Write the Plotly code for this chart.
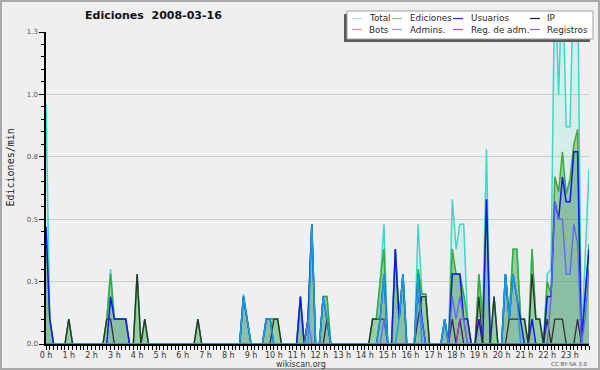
import plotly.graph_objects as go

# ---------------- data (10-minute steps, one row per hour) ----------------
times = [f"{h:02d}:{m:02d}" for h in range(24) for m in range(0, 60, 10)]

total = [
    0.96, 0.1, 0, 0, 0, 0,
    0.1, 0, 0, 0, 0, 0,
    0, 0, 0, 0, 0.1, 0.3,
    0.1, 0.1, 0.1, 0.1, 0, 0,
    0.28, 0, 0.1, 0, 0, 0,
    0, 0, 0, 0, 0, 0,
    0, 0, 0, 0, 0.1, 0,
    0, 0, 0, 0, 0, 0,
    0, 0, 0, 0, 0.2, 0.1,
    0, 0, 0, 0, 0.1, 0.1,
    0.1, 0.1, 0, 0, 0, 0,
    0, 0.19, 0, 0.1, 0.48, 0,
    0, 0.19, 0.19, 0, 0, 0,
    0, 0, 0, 0, 0, 0,
    0, 0, 0.1, 0.1, 0.25, 0.48,
    0, 0, 0.38, 0.1, 0.28, 0,
    0, 0, 0.48, 0.2, 0.2, 0,
    0, 0, 0, 0.1, 0, 0.58,
    0.38, 0.48, 0.48, 0.1, 0, 0,
    0.28, 0.1, 0.78, 0, 0.19, 0,
    0, 0.28, 0.1, 0.38, 0.38, 0.1,
    0.1, 0, 0.38, 0.1, 0.1, 0,
    0.28, 0.3, 1.5, 1.0, 1.5, 0.87,
    0.87, 1.5, 1.5, 0, 0.35, 0.7,
]
ediciones = [
    0.47, 0.1, 0, 0, 0, 0,
    0.1, 0, 0, 0, 0, 0,
    0, 0, 0, 0, 0.1, 0.28,
    0.1, 0.1, 0.1, 0.1, 0, 0,
    0.28, 0, 0.1, 0, 0, 0,
    0, 0, 0, 0, 0, 0,
    0, 0, 0, 0, 0.1, 0,
    0, 0, 0, 0, 0, 0,
    0, 0, 0, 0, 0.19, 0.1,
    0, 0, 0, 0, 0.1, 0.1,
    0.1, 0.1, 0, 0, 0, 0,
    0, 0.19, 0, 0.1, 0.48, 0,
    0, 0.19, 0.19, 0, 0, 0,
    0, 0, 0, 0, 0, 0,
    0, 0, 0.1, 0.1, 0.25, 0.38,
    0, 0, 0.38, 0.1, 0.28, 0,
    0, 0, 0.3, 0.2, 0.2, 0,
    0, 0, 0, 0.1, 0, 0.38,
    0.28, 0.28, 0.2, 0.1, 0, 0,
    0.28, 0.1, 0.58, 0, 0.19, 0,
    0, 0.28, 0.1, 0.38, 0.38, 0.1,
    0.1, 0, 0.38, 0.1, 0.1, 0,
    0.25, 0.2, 0.67, 0.61, 0.77, 0.6,
    0.66, 0.8, 0.86, 0, 0.2, 0.4,
]
usuarios = [
    0.47, 0.1, 0, 0, 0, 0,
    0, 0, 0, 0, 0, 0,
    0, 0, 0, 0, 0, 0.19,
    0.1, 0.1, 0.1, 0.1, 0, 0,
    0, 0, 0, 0, 0, 0,
    0, 0, 0, 0, 0, 0,
    0, 0, 0, 0, 0, 0,
    0, 0, 0, 0, 0, 0,
    0, 0, 0, 0, 0.19, 0.1,
    0, 0, 0, 0, 0.1, 0.1,
    0, 0, 0, 0, 0, 0,
    0, 0.19, 0, 0.1, 0.48, 0,
    0, 0.19, 0.1, 0, 0, 0,
    0, 0, 0, 0, 0, 0,
    0, 0, 0, 0, 0.1, 0.28,
    0, 0, 0.38, 0.1, 0.28, 0,
    0, 0, 0.28, 0.1, 0, 0,
    0, 0, 0, 0.1, 0, 0.28,
    0.28, 0.28, 0.1, 0.1, 0, 0,
    0.1, 0, 0.58, 0, 0, 0,
    0, 0.28, 0.1, 0.28, 0.19, 0.1,
    0, 0, 0.1, 0, 0, 0,
    0.19, 0.19, 0.57, 0.5, 0.67, 0.57,
    0.57, 0.77, 0.77, 0, 0.2, 0.38,
]
ip = [
    0, 0, 0, 0, 0, 0,
    0.1, 0, 0, 0, 0, 0,
    0, 0, 0, 0, 0.1, 0.1,
    0, 0, 0, 0, 0, 0,
    0.28, 0, 0.1, 0, 0, 0,
    0, 0, 0, 0, 0, 0,
    0, 0, 0, 0, 0.1, 0,
    0, 0, 0, 0, 0, 0,
    0, 0, 0, 0, 0, 0,
    0, 0, 0, 0, 0, 0,
    0.1, 0.1, 0, 0, 0, 0,
    0, 0, 0, 0, 0, 0,
    0, 0, 0.1, 0, 0, 0,
    0, 0, 0, 0, 0, 0,
    0, 0, 0.1, 0.1, 0.1, 0.1,
    0, 0, 0, 0, 0, 0,
    0, 0, 0.1, 0.19, 0.19, 0,
    0, 0, 0, 0, 0, 0.1,
    0, 0.1, 0, 0, 0, 0,
    0.19, 0, 0, 0, 0.19, 0,
    0, 0, 0.1, 0.1, 0.1, 0.1,
    0.1, 0, 0.28, 0.1, 0.1, 0,
    0.1, 0, 0.1, 0.1, 0.1, 0,
    0, 0, 0.1, 0, 0, 0,
]
bots = [0] * 144
admins = [
    0, 0, 0, 0, 0, 0,
    0, 0, 0, 0, 0, 0,
    0, 0, 0, 0, 0, 0,
    0, 0, 0, 0, 0, 0,
    0, 0, 0, 0, 0, 0,
    0, 0, 0, 0, 0, 0,
    0, 0, 0, 0, 0, 0,
    0, 0, 0, 0, 0, 0,
    0, 0, 0, 0, 0.19, 0.1,
    0, 0, 0, 0, 0.1, 0.1,
    0, 0, 0, 0, 0, 0,
    0, 0, 0, 0, 0.48, 0,
    0, 0.19, 0.1, 0, 0, 0,
    0, 0, 0, 0, 0, 0,
    0, 0, 0, 0, 0.1, 0.28,
    0, 0, 0, 0.1, 0.28, 0,
    0, 0, 0.28, 0, 0, 0,
    0, 0, 0, 0.1, 0, 0,
    0, 0, 0, 0, 0, 0,
    0, 0, 0, 0, 0, 0,
    0, 0.28, 0.1, 0.28, 0.19, 0,
    0, 0, 0, 0, 0, 0,
    0, 0, 0, 0, 0, 0,
    0, 0, 0, 0, 0, 0,
]
reg_adm = [0] * 108 + [0, 0.1, 0.1, 0, 0, 0] + [0] * 30
registros = [
    0, 0, 0, 0, 0, 0,
    0, 0, 0, 0, 0, 0,
    0, 0, 0, 0, 0, 0,
    0, 0, 0, 0, 0, 0,
    0, 0, 0, 0, 0, 0,
    0, 0, 0, 0, 0, 0,
    0, 0, 0, 0, 0, 0,
    0, 0, 0, 0, 0, 0,
    0, 0, 0, 0, 0, 0,
    0, 0, 0, 0, 0, 0,
    0, 0, 0, 0, 0, 0,
    0, 0, 0, 0.1, 0, 0,
    0, 0, 0, 0, 0, 0,
    0, 0, 0, 0, 0, 0,
    0, 0, 0, 0, 0, 0.1,
    0, 0, 0, 0, 0, 0,
    0, 0, 0.19, 0.1, 0, 0,
    0, 0, 0, 0, 0, 0.19,
    0.1, 0.19, 0.1, 0, 0, 0,
    0, 0, 0, 0, 0, 0,
    0, 0, 0, 0, 0, 0,
    0, 0, 0, 0, 0, 0,
    0, 0.19, 0.57, 0.5, 0.5, 0.28,
    0.28, 0.48, 0.4, 0, 0.1, 0.3,
]

y_tickvals = [0, 0.25, 0.5, 0.75, 1.0, 1.25]
y_ticktext = ["0.0", "0.3", "0.5", "0.8", "1.0", "1.3"]
hour_ticks = list(range(24))
hour_labels = [f"{h} h" for h in hour_ticks]

legend_names = ["Total", "Ediciones", "Usuarios", "IP",
                "Bots", "Admins.", "Reg. de adm.", "Registros"]
legend_colors = ["#a8e6de", "#7cc87c", "#2a2ae6", "#202020",
                 "#f0a040", "#40c4e0", "#c040e0", "#7070f0"]

# ---------------- figure ----------------
x = [int(t[:2]) + int(t[3:]) / 60 for t in times]

W, H = 600, 370
L, R, T, B = 46, 11, 32, 26
PW, PH = W - L - R, H - T - B


def px(xpix):
    return (xpix - L) / PW


def py(ypix):
    return (H - B - ypix) / PH


fig = go.Figure()


def add(y, color, width=1.5, fill=None):
    fig.add_trace(go.Scatter(
        x=x, y=y, mode="lines",
        line=dict(color=color, width=width),
        fill="tozeroy" if fill else None,
        fillcolor=fill,
        showlegend=False, hoverinfo="skip"))


add(total, "#3cd8c8", 1.5, "rgba(64,224,200,0.13)")
add(ediciones, "#3caa3c", 1.5, "rgba(60,170,60,0.42)")
add(usuarios, "#1414ee", 1.5, "rgba(0,0,200,0.08)")
add(ip, "#303030", 1.3)
add(bots, "#f0a040", 1.3)
add(reg_adm, "#b030e0", 1.3)
add(registros, "#6464f4", 1.3)
add(admins, "#1a9ee0", 1.5)

shapes = []
annotations = []

# legend box
shapes.append(dict(type="rect", xref="paper", yref="paper",
                   x0=px(344), x1=px(590), y0=py(42), y1=py(14),
                   fillcolor="#5a5a5a", line=dict(width=0), layer="above"))
shapes.append(dict(type="rect", xref="paper", yref="paper",
                   x0=px(347), x1=px(593), y0=py(39), y1=py(11),
                   fillcolor="white", line=dict(color="#a0a0a0", width=1),
                   layer="above"))
col_sample = [352, 392, 453, 530]
col_text = [367, 408, 469, 545]
row_y = [18.5, 29.5]
for k, (name, color) in enumerate(zip(legend_names, legend_colors)):
    r, c = divmod(k, 4)
    shapes.append(dict(type="line", xref="paper", yref="paper",
                       x0=px(col_sample[c]), x1=px(col_sample[c] + 10),
                       y0=py(row_y[r]), y1=py(row_y[r]),
                       line=dict(color=color, width=1.2), layer="above"))
    annotations.append(dict(xref="paper", yref="paper",
                            x=px(col_text[c]), y=py(row_y[r]),
                            xanchor="left", yanchor="middle", showarrow=False,
                            text=name,
                            font=dict(family="DejaVu Sans", size=8.8, color="#2a2a2a")))

# outer border
shapes.append(dict(type="rect", xref="paper", yref="paper",
                   x0=px(1), x1=px(599), y0=py(369), y1=py(1),
                   line=dict(color="#a8a8a8", width=2), layer="above"))

annotations.append(dict(xref="paper", yref="paper", x=px(153.5), y=py(16),
                        xanchor="center", yanchor="middle", showarrow=False,
                        text="Ediciones\u00a0\u00a02008-03-16",
                        font=dict(family="DejaVu Sans", size=11, color="#111111",
                                  weight="bold")))
annotations.append(dict(xref="paper", yref="paper", x=px(9.5), y=py(168),
                        xanchor="center", yanchor="middle", showarrow=False,
                        textangle=-90, text="Ediciones/min",
                        font=dict(family="DejaVu Sans Mono", size=10, color="#222222")))
annotations.append(dict(xref="paper", yref="paper", x=px(300.5), y=py(364),
                        xanchor="center", yanchor="middle", showarrow=False,
                        text="wikiscan.org",
                        font=dict(family="DejaVu Sans", size=8, color="#333333")))
annotations.append(dict(xref="paper", yref="paper", x=px(589), y=py(364),
                        xanchor="right", yanchor="middle", showarrow=False,
                        text="CC BY-SA 3.0",
                        font=dict(family="DejaVu Sans", size=5.6, color="#555555")))

fig.update_layout(
    width=W, height=H,
    margin=dict(l=L, r=R, t=T, b=B, pad=0),
    paper_bgcolor="#efefef",
    plot_bgcolor="#eeeff0",
    showlegend=False,
    shapes=shapes,
    annotations=annotations,
    xaxis=dict(
        range=[0, x[-1]], showgrid=False, zeroline=False,
        showline=True, linecolor="black", linewidth=2,
        tickmode="array", tickvals=hour_ticks, ticktext=hour_labels,
        ticks="outside", ticklen=4, tickcolor="black", tickwidth=1,
        ticklabelstandoff=-2,
        tickfont=dict(family="DejaVu Sans", size=8, color="#333333"),
        minor=dict(tickvals=x, ticks="outside", ticklen=4,
                   tickcolor="black", tickwidth=1, showgrid=False),
    ),
    yaxis=dict(
        range=[0, 1.25], showgrid=True, gridcolor="#cdcdcd", gridwidth=1,
        zeroline=False, showline=True, linecolor="black", linewidth=1.5,
        tickmode="array", tickvals=y_tickvals, ticktext=y_ticktext,
        ticks="outside", ticklen=5, tickcolor="black", tickwidth=1,
        tickfont=dict(family="DejaVu Sans", size=7, color="#555555"),
        minor=dict(dtick=0.05, tick0=0, ticks="outside", ticklen=3,
                   tickcolor="black", tickwidth=1, showgrid=False),
    ),
)

fig.write_html(
    "out.html",
    config={"displayModeBar": False},
    post_script="document.body.style.margin='0';document.body.style.padding='0';"
                "document.body.style.overflow='hidden';",
)
